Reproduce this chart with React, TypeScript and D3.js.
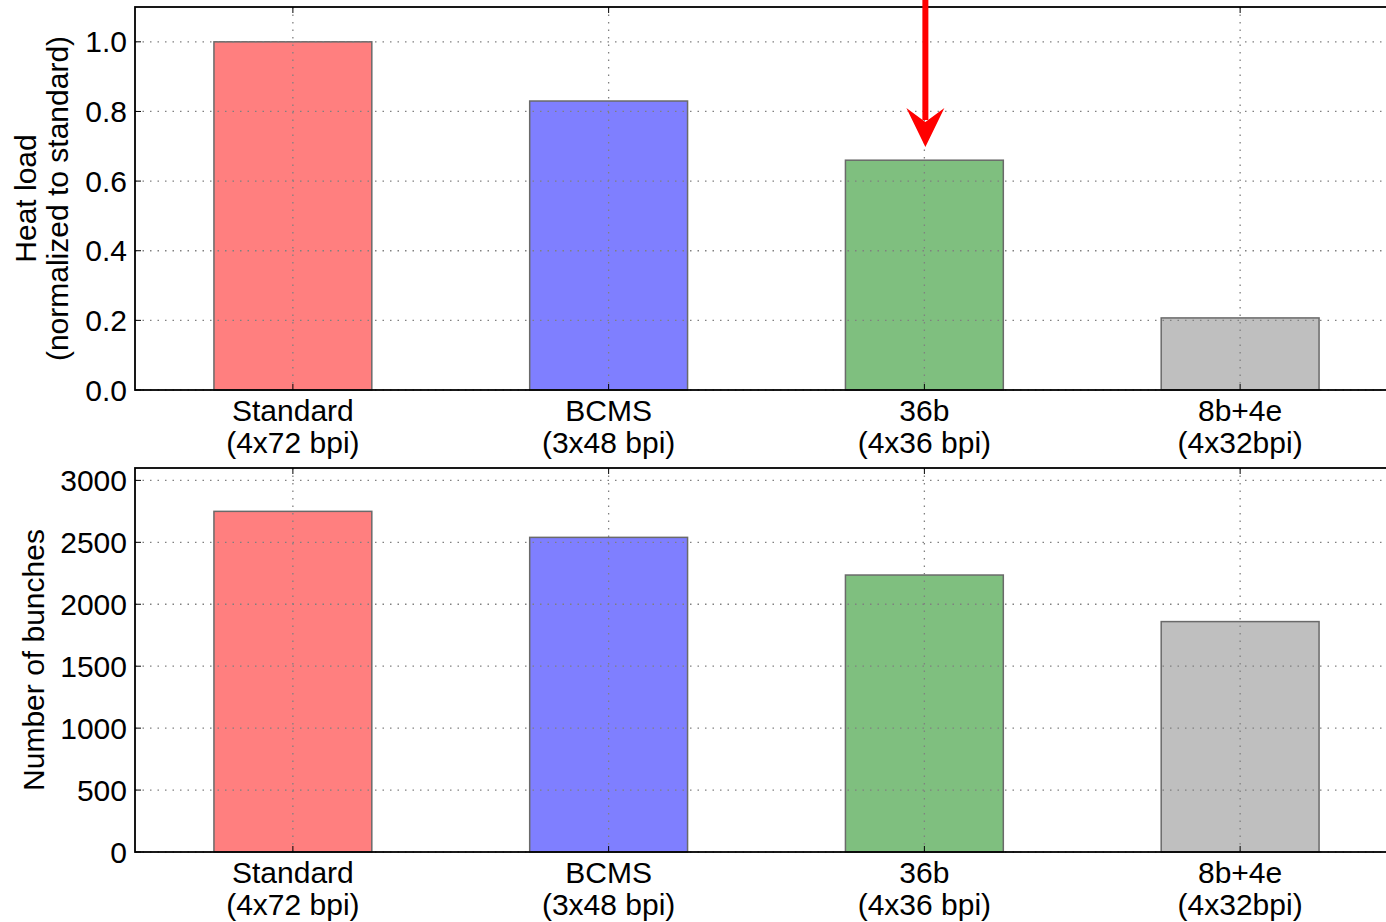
import React, { useEffect, useRef } from 'react';
import * as d3 from 'd3';

const categories = ['Standard\n(4x72 bpi)', 'BCMS\n(3x48 bpi)', '36b\n(4x36 bpi)', '8b+4e\n(4x32bpi)'];
const heatLoad = [1.0, 0.83, 0.66, 0.207];
const bunches = [2750, 2540, 2236, 1860];
const barColors = ['#ff7f7f', '#7f7fff', '#7fbf7f', '#bfbfbf'];
const heatTicks = [0.0, 0.2, 0.4, 0.6, 0.8, 1.0];
const bunchTicks = [0, 500, 1000, 1500, 2000, 2500, 3000];

const W = 1386;
const H = 922;

const App = () => {
  const svgRef = useRef(null);

  useEffect(() => {
    const svg = d3.select(svgRef.current);
    svg.selectAll('*').remove();

    const font = 'Liberation Sans, Arial, sans-serif';
    const fs = 30;
    const x = d3.scaleLinear().domain([-0.5, 3.5]).range([135, 1398]);

    const panel = (vals, ticks, domain, top, bottom, fmt, labels, labelX) => {
      const y = d3.scaleLinear().domain(domain).range([bottom, top]);
      const g = svg.append('g');

      // bars
      g.selectAll('rect').data(vals).enter().append('rect')
        .attr('x', (d, i) => x(i - 0.25))
        .attr('width', x(0.25) - x(-0.25))
        .attr('y', d => y(d))
        .attr('height', d => bottom - y(d))
        .attr('fill', (d, i) => barColors[i])
        .attr('stroke', '#6a6a6a').attr('stroke-width', 1.5);

      // dotted grid drawn over the bars
      g.selectAll('.hg').data(ticks).enter().append('line')
        .attr('x1', x(-0.5)).attr('x2', x(3.5))
        .attr('y1', d => y(d)).attr('y2', d => y(d))
        .attr('stroke', '#808080').attr('stroke-width', 1.3).attr('stroke-dasharray', '1.5,6');

      g.selectAll('.vg').data(d3.range(4)).enter().append('line')
        .attr('x1', d => x(d)).attr('x2', d => x(d))
        .attr('y1', top).attr('y2', bottom)
        .attr('stroke', '#808080').attr('stroke-width', 1.3).attr('stroke-dasharray', '1.5,6');

      // frame
      g.append('rect')
        .attr('x', x(-0.5)).attr('y', top)
        .attr('width', x(3.5) - x(-0.5)).attr('height', bottom - top)
        .attr('fill', 'none').attr('stroke', '#000').attr('stroke-width', 1.8);

      // y ticks (inward)
      ticks.forEach(t => {
        g.append('line').attr('x1', x(-0.5)).attr('x2', x(-0.5) + 6)
          .attr('y1', y(t)).attr('y2', y(t)).attr('stroke', '#000').attr('stroke-width', 1);
        g.append('text').attr('x', x(-0.5) - 8).attr('y', y(t))
          .attr('dy', '0.35em').attr('text-anchor', 'end')
          .attr('font-family', font).attr('font-size', fs).attr('fill', '#000')
          .text(fmt(t));
      });

      // x ticks and two-line category labels
      d3.range(4).forEach(i => {
        g.append('line').attr('x1', x(i)).attr('x2', x(i))
          .attr('y1', bottom).attr('y2', bottom - 6).attr('stroke', '#000');
        g.append('line').attr('x1', x(i)).attr('x2', x(i))
          .attr('y1', top).attr('y2', top + 6).attr('stroke', '#000');
        const lines = categories[i].split('\n');
        lines.forEach((s, k) => {
          g.append('text').attr('x', x(i)).attr('y', bottom + 31 + k * 32)
            .attr('text-anchor', 'middle')
            .attr('font-family', font).attr('font-size', fs).attr('fill', '#000')
            .text(s);
        });
      });

      // y label
      labels.forEach((s, k) => {
        g.append('text')
          .attr('transform', `translate(${labelX[k]}, ${(top + bottom) / 2}) rotate(-90)`)
          .attr('text-anchor', 'middle').attr('dy', '0.35em')
          .attr('font-family', font).attr('font-size', fs).attr('fill', '#000')
          .text(s);
      });
    };

    panel(heatLoad, heatTicks, [0, 1.1], 7, 390, d => d3.format('.1f')(d),
      ['Heat load', '(normalized to standard)'], [25, 57]);
    panel(bunches, bunchTicks, [0, 3100], 468, 852, d => String(d),
      ['Number of bunches'], [33]);

    // red arrow pointing at the 36b bar
    const ax = x(2) + 1;
    svg.append('line')
      .attr('x1', ax).attr('x2', ax).attr('y1', 0).attr('y2', 120)
      .attr('stroke', '#ff0000').attr('stroke-width', 6);
    svg.append('path')
      .attr('d', `M${ax},147 L${ax - 19},108 L${ax},122 L${ax + 19},108 Z`)
      .attr('fill', '#ff0000');
  }, []);

  return (
    <svg ref={svgRef} width={W} height={H}
      style={{ position: 'absolute', left: 0, top: 0, background: '#fff' }} />
  );
};

export default App;
